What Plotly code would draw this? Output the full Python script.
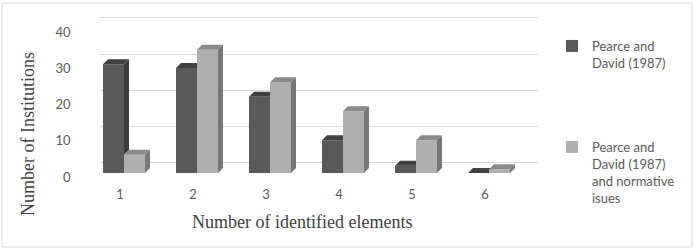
import plotly.graph_objects as go

# ---------------- data ----------------
categories = [1, 2, 3, 4, 5, 6]
tick_labels = ["1", "2", "3", "4", "5", "6"]
series_a_name = "Pearce and<br>David (1987)"
series_b_name = "Pearce and<br>David (1987)<br>and normative<br>isues"
series_a = [30, 29, 21, 9, 2, 0]
series_b = [5, 34, 25, 17, 9, 1]
y_ticks = [0, 10, 20, 30, 40]

# ---------------- style / layout constants ----------------
W_IMG, H_IMG = 695, 251
COL_A = dict(front="#595959", side="#3b3b3b", top="#424242")
COL_B = dict(front="#afafaf", side="#777777", top="#8a8a8a")
GRID = "#d9d9d9"
TXT = "#595959"

def fx(px):
    return px / W_IMG

def fy(py):
    return (H_IMG - py) / H_IMG

# front (bar) plane geometry in pixels
X_PX_PER_UNIT = 73.0
Y_PX_PER_UNIT = 3.625
FRONT_X0 = 87.5
FRONT_BASE = 173.0
BAR_W = 21 / X_PX_PER_UNIT
DX = 5 / X_PX_PER_UNIT
DY = 5 / Y_PX_PER_UNIT

# back wall geometry
BACK_X0, BACK_X1 = 100, 538
BACK_BASE = 163.0

fig = go.Figure()

# front faces as real bars
fig.add_trace(go.Bar(x=categories, y=series_a, width=BAR_W, offset=-BAR_W,
                     marker=dict(color=COL_A["front"], line=dict(width=0)),
                     name=series_a_name, legend="legend",
                     xaxis="x2", yaxis="y2", hoverinfo="skip"))
fig.add_trace(go.Bar(x=categories, y=series_b, width=BAR_W, offset=0,
                     marker=dict(color=COL_B["front"], line=dict(width=0)),
                     name=series_b_name, legend="legend2",
                     xaxis="x2", yaxis="y2", hoverinfo="skip"))

def poly_trace(xs, ys, color):
    return go.Scatter(x=xs, y=ys, mode="lines", fill="toself", fillcolor=color,
                      line=dict(width=0, color=color), showlegend=False,
                      hoverinfo="skip", xaxis="x2", yaxis="y2")

# depth faces
a_side_x, a_side_y, a_top_x, a_top_y = [], [], [], []
b_side_x, b_side_y, b_top_x, b_top_y = [], [], [], []
for c, va, vb in zip(categories, series_a, series_b):
    xl, xr = c - BAR_W, c
    # dark side, only the part above the light bar
    if va > vb:
        a_side_x += [xr, xr + DX, xr + DX, xr, None]
        a_side_y += [vb, vb + DY, va + DY, va, None]
    # dark top, minus what the light front hides
    if vb <= va:
        a_top_x += [xl, xl + DX, xr + DX, xr, None]
        a_top_y += [va, va + DY, va + DY, va, None]
    elif vb >= va + DY:
        a_top_x += [xl, xl + DX, xr, xr, None]
        a_top_y += [va, va + DY, va + DY, va, None]
    else:
        xm = xr + (vb - va) * DX / DY
        a_top_x += [xl, xl + DX, xr + DX, xm, xr, xr, None]
        a_top_y += [va, va + DY, va + DY, vb, vb, va, None]
    # light side and top
    xl2, xr2 = c, c + BAR_W
    b_side_x += [xr2, xr2 + DX, xr2 + DX, xr2, None]
    b_side_y += [0, DY, vb + DY, vb, None]
    b_top_x += [xl2, xl2 + DX, xr2 + DX, xr2, None]
    b_top_y += [vb, vb + DY, vb + DY, vb, None]

fig.add_trace(poly_trace(a_side_x, a_side_y, COL_A["side"]))
fig.add_trace(poly_trace(a_top_x, a_top_y, COL_A["top"]))
fig.add_trace(poly_trace(b_side_x, b_side_y, COL_B["side"]))
fig.add_trace(poly_trace(b_top_x, b_top_y, COL_B["top"]))

# back wall axes (gridlines)
pad = 0.5
fig.update_layout(
    template="none",
    xaxis=dict(domain=[fx(BACK_X0), fx(BACK_X1)], range=[0, 1], visible=False,
               fixedrange=True, automargin=False),
    yaxis=dict(domain=[fy(BACK_BASE + pad * Y_PX_PER_UNIT),
                       fy(BACK_BASE - (40 + pad) * Y_PX_PER_UNIT)],
               range=[-pad, 40 + pad], anchor="x", tickvals=y_ticks,
               showgrid=True, gridcolor=GRID, gridwidth=1, zeroline=False,
               showticklabels=False, ticks="", showline=False,
               automargin=False),
    xaxis2=dict(domain=[fx(FRONT_X0), fx(FRONT_X0 + 6 * X_PX_PER_UNIT)],
                range=[0.5, 6.5], anchor="y2", tickvals=categories,
                ticktext=tick_labels, showgrid=False, zeroline=False,
                showline=False, ticks="", ticklabelshift=-4,
                ticklabelstandoff=12, automargin=False,
                tickfont=dict(family="Lato", size=13, color=TXT)),
    yaxis2=dict(domain=[fy(FRONT_BASE), fy(FRONT_BASE - 40 * Y_PX_PER_UNIT)],
                range=[0, 40], anchor="x2", tickvals=y_ticks,
                showgrid=False, zeroline=False, showline=False, ticks="",
                ticklabelstandoff=16, ticklabelshift=4, automargin=False,
                tickfont=dict(family="Lato", size=13, color=TXT)),
)

shapes = []
for v in y_ticks:
    shapes.append(dict(type="line", xref="x", yref="y", layer="below",
                       xsizemode="pixel", xanchor=0, x0=-18, x1=0,
                       ysizemode="pixel", yanchor=v, y0=-14, y1=0,
                       line=dict(color=GRID, width=1)))
shapes.append(dict(type="rect", xref="paper", yref="paper",
                   x0=fx(2), x1=fx(692), y0=fy(247), y1=fy(3),
                   line=dict(color=GRID, width=1)))

annotations = [
    dict(text="Number of identified elements", xref="paper", yref="paper",
         x=fx(302), y=fy(222), showarrow=False, xanchor="center", yanchor="middle",
         font=dict(family="Liberation Serif", size=18, color="#404040")),
    dict(text="Number of Institutions", xref="paper", yref="paper",
         x=fx(28), y=fy(134), showarrow=False, textangle=-90,
         xanchor="center", yanchor="middle",
         font=dict(family="Liberation Serif", size=18, color="#404040")),
]

legend_font = dict(family="Lato", size=13, color=TXT)
fig.update_layout(
    width=W_IMG, height=H_IMG,
    margin=dict(l=0, r=0, t=0, b=0, autoexpand=False),
    paper_bgcolor="white", plot_bgcolor="rgba(0,0,0,0)",
    barmode="overlay",
    shapes=shapes, annotations=annotations,
    legend=dict(x=fx(552), y=fy(31), xanchor="left", yanchor="top",
                bgcolor="rgba(0,0,0,0)", font=legend_font, valign="top"),
    legend2=dict(x=fx(552), y=fy(132), xanchor="left", yanchor="top",
                 bgcolor="rgba(0,0,0,0)", font=legend_font, valign="top"),
)

fig.write_html("out.html", config={"displayModeBar": False},
               post_script="document.body.style.margin='0';"
                           "document.body.style.overflow='hidden';")
